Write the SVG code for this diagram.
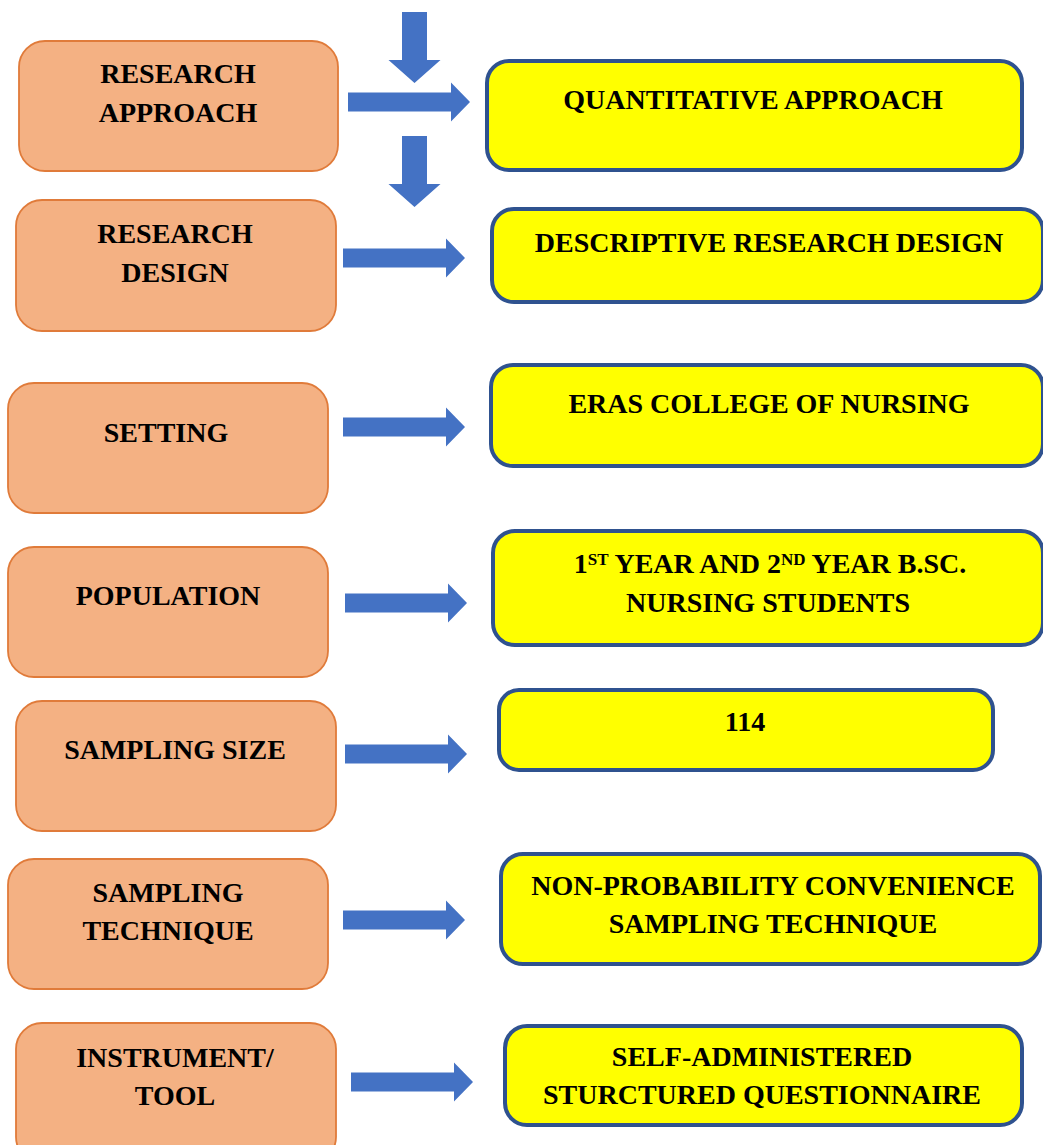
<svg xmlns="http://www.w3.org/2000/svg" xmlns:xlink="http://www.w3.org/1999/xlink" width="1043" height="1145" viewBox="0 0 1043 1145">
<style>
.lbox{fill:#F4B183;stroke:#E07B3A;stroke-width:1.8}
.rbox{fill:#FFFF00;stroke:#2F528F;stroke-width:4}
.t{font-family:"Liberation Serif","Times New Roman",serif;font-weight:bold;font-size:28px;fill:#000;text-anchor:middle}
.sup{font-size:17px}
.ar{fill:#4472C4}
</style>
<defs>
<path id="ra" d="M0,-9.5 H103 V-19.5 L122,0 L103,19.5 V9.5 H0 Z"/>
<path id="da" d="M-12.5,0 H12.5 V48 H26 L0,71 L-26,48 H-12.5 Z"/>
</defs>
<rect width="1043" height="1145" fill="#fff"/>
<g id="connectors" class="ar">
<use xlink:href="#da" x="414.5" y="12"/>
<use xlink:href="#da" x="414.5" y="136"/>
<use xlink:href="#ra" x="348" y="102"/>
<use xlink:href="#ra" x="343" y="258"/>
<use xlink:href="#ra" x="343" y="427"/>
<use xlink:href="#ra" x="345" y="603"/>
<use xlink:href="#ra" x="345" y="754"/>
<use xlink:href="#ra" x="343" y="920"/>
<use xlink:href="#ra" x="351" y="1082"/>
</g>
<g id="n-research-approach"><rect class="lbox" x="19" y="41" width="319" height="130" rx="26"/><text class="t" x="178" y="83">RESEARCH</text><text class="t" x="178" y="122">APPROACH</text></g>
<g id="n-research-design"><rect class="lbox" x="16" y="200" width="320" height="131" rx="26"/><text class="t" x="175" y="243">RESEARCH</text><text class="t" x="175" y="282">DESIGN</text></g>
<g id="n-setting"><rect class="lbox" x="8" y="383" width="320" height="130" rx="26"/><text class="t" x="166" y="442">SETTING</text></g>
<g id="n-population"><rect class="lbox" x="8" y="547" width="320" height="130" rx="26"/><text class="t" x="168" y="605">POPULATION</text></g>
<g id="n-sampling-size"><rect class="lbox" x="16" y="701" width="320" height="130" rx="26"/><text class="t" x="175" y="759">SAMPLING SIZE</text></g>
<g id="n-sampling-technique"><rect class="lbox" x="8" y="859" width="320" height="130" rx="26"/><text class="t" x="168" y="902">SAMPLING</text><text class="t" x="168" y="940">TECHNIQUE</text></g>
<g id="n-instrument"><rect class="lbox" x="16" y="1023" width="320" height="140" rx="26"/><text class="t" x="175" y="1067">INSTRUMENT/</text><text class="t" x="175" y="1105">TOOL</text></g>
<g id="n-quantitative"><rect class="rbox" x="487" y="61" width="535" height="109" rx="22"/><text class="t" x="753" y="109">QUANTITATIVE APPROACH</text></g>
<g id="n-descriptive"><rect class="rbox" x="492" y="209" width="551" height="93" rx="22"/><text class="t" x="769" y="252">DESCRIPTIVE RESEARCH DESIGN</text></g>
<g id="n-eras"><rect class="rbox" x="491" y="365" width="552" height="101" rx="22"/><text class="t" x="769" y="413">ERAS COLLEGE OF NURSING</text></g>
<g id="n-students"><rect class="rbox" x="493" y="531" width="550" height="114" rx="22"/><text class="t" x="770" y="573">1<tspan class="sup" dy="-8">ST</tspan><tspan dy="8"> YEAR AND 2</tspan><tspan class="sup" dy="-8">ND</tspan><tspan dy="8"> YEAR B.SC.</tspan></text><text class="t" x="768" y="612">NURSING STUDENTS</text></g>
<g id="n-114"><rect class="rbox" x="499" y="690" width="494" height="80" rx="20"/><text class="t" x="745" y="731">114</text></g>
<g id="n-nonprob"><rect class="rbox" x="501" y="854" width="539" height="110" rx="22"/><text class="t" x="773" y="895">NON-PROBABILITY CONVENIENCE</text><text class="t" x="773" y="933">SAMPLING TECHNIQUE</text></g>
<g id="n-selfadmin"><rect class="rbox" x="505" y="1026" width="517" height="99" rx="22"/><text class="t" x="762" y="1066">SELF-ADMINISTERED</text><text class="t" x="762" y="1104">STURCTURED QUESTIONNAIRE</text></g>
</svg>
